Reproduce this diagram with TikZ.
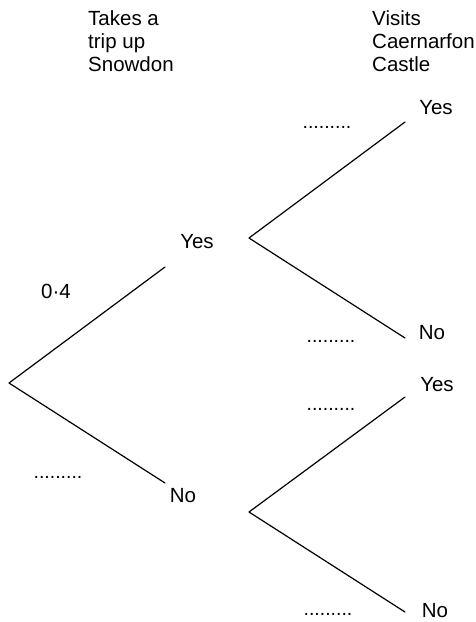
\documentclass[tikz,border=0pt]{standalone}
\usepackage{fontspec}
\setmainfont{Liberation Sans}
\begin{document}
\begin{tikzpicture}[x=1pt,y=-1pt,
  lbl/.style={inner sep=0pt,anchor=base,font=\fontsize{20.5}{23}\selectfont},
  hd/.style={inner sep=0pt,anchor=base west,font=\fontsize{20.5}{23}\selectfont},
  blank/.style={inner sep=0pt,anchor=base,font=\fontsize{19.5}{22}\selectfont},
  branch/.style={line width=1.2pt,line cap=round,line join=round}]
\useasboundingbox (0,0) rectangle (476,622);
% headings
\node[hd] (h1a) at (88,25) {Takes a};
\node[hd] (h1b) at (88,48) {trip up};
\node[hd] (h1c) at (88,71) {Snowdon};
\node[hd] (h2a) at (372,25) {Visits};
\node[hd] (h2b) at (372,48) {Caernarfon};
\node[hd] (h2c) at (372,71) {Castle};
% branch points
\coordinate (r) at (9,383);
\coordinate (a) at (165,267);
\coordinate (b) at (165,483);
\coordinate (ar) at (249,238);
\coordinate (br) at (249,512);
\coordinate (aa) at (405,122);
\coordinate (ab) at (405,338);
\coordinate (ba) at (405,397);
\coordinate (bb) at (405,612);
\draw[branch] (a) -- (r) -- (b);
\draw[branch] (aa) -- (ar) -- (ab);
\draw[branch] (ba) -- (br) -- (bb);
% outcome labels
\node[lbl] (yes1) at (197,248) {Yes};
\node[lbl] (no1) at (183,502) {No};
\node[lbl] (yes2) at (436,114) {Yes};
\node[lbl] (no2) at (432,339) {No};
\node[lbl] (yes3) at (437,391) {Yes};
\node[lbl] (no3) at (435,617) {No};
% probabilities
\node[lbl] (p1) at (56,298) {0·4};
\node[blank] (d1) at (58,478) {.........};
\node[blank] (d2) at (327,128) {.........};
\node[blank] (d3) at (331,342) {.........};
\node[blank] (d4) at (331,410) {.........};
\node[blank] (d5) at (328,615) {.........};
\end{tikzpicture}
\end{document}
